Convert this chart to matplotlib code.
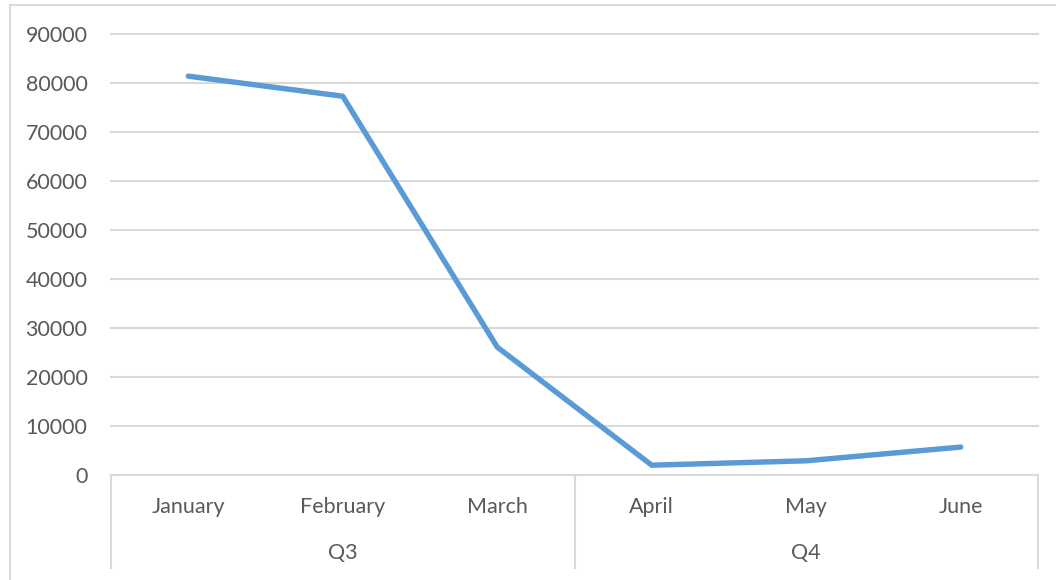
import matplotlib
matplotlib.use('Agg')
import matplotlib.pyplot as plt
from matplotlib.patches import Rectangle
import matplotlib.transforms as mtransforms

# Data
months = ['January', 'February', 'March', 'April', 'May', 'June']
values = [81400, 77300, 26100, 2000, 2900, 5700]
quarters = ['Q3', 'Q4']
quarter_sizes = [3, 3]
y_ticks = list(range(0, 90001, 10000))

grid_color = '#d9d9d9'
text_color = '#595959'
line_color = '#5b9bd5'
font = 'Lato'
fsize = 15.5

W, H = 1056, 580
fig = plt.figure(figsize=(W / 100, H / 100), dpi=100)

# outer chart border (only top and left visible)
fig.patches.append(Rectangle((10 / W, -0.1), 1.2, 1 - 5 / H + 0.1,
                             transform=fig.transFigure, fill=False,
                             edgecolor=grid_color, linewidth=1.5))

left, right = 111 / W, 1038 / W
bottom, top = 1 - 475 / H, 1 - 34 / H
ax = fig.add_axes([left, bottom, right - left, top - bottom])

x = list(range(len(months)))
ax.plot(x, values, color=line_color, linewidth=3.9, solid_capstyle='round',
        solid_joinstyle='round', zorder=3)

ax.set_xlim(-0.5, len(months) - 0.5)
ax.set_ylim(0, 90000)
ax.set_yticks(y_ticks)
ax.set_yticklabels([str(v) for v in y_ticks])
ax.yaxis.grid(True, color=grid_color, linewidth=1.5)
for gl in ax.get_ygridlines():
    gl.set_clip_on(False)
ax.set_axisbelow(True)

for s in ax.spines.values():
    s.set_visible(False)

ax.tick_params(axis='y', length=0, pad=17, labelsize=fsize, labelcolor=text_color)
ax.set_xticks(x)
ax.set_xticklabels(months)
ax.tick_params(axis='x', length=0, pad=16, labelsize=fsize, labelcolor=text_color)
for lbl in ax.get_xticklabels() + ax.get_yticklabels():
    lbl.set_fontfamily(font)

# multi-level category axis: separators and quarter labels
trans = mtransforms.blended_transform_factory(ax.transData, ax.transAxes)
sep_depth = -(568 - 475) / (475 - 34)
quarter_y = -(553 - 475) / (475 - 34)
start = -0.5
edges = [start]
for size in quarter_sizes:
    edges.append(edges[-1] + size)
for e in edges:
    ax.plot([e, e], [0, sep_depth], transform=trans, color=grid_color,
            linewidth=1.5, clip_on=False)
for q, a, b in zip(quarters, edges[:-1], edges[1:]):
    ax.text((a + b) / 2, quarter_y, q, transform=trans, ha='center',
            va='center', fontsize=fsize, color=text_color, fontfamily=font)

fig.savefig('out.png', dpi=100)
